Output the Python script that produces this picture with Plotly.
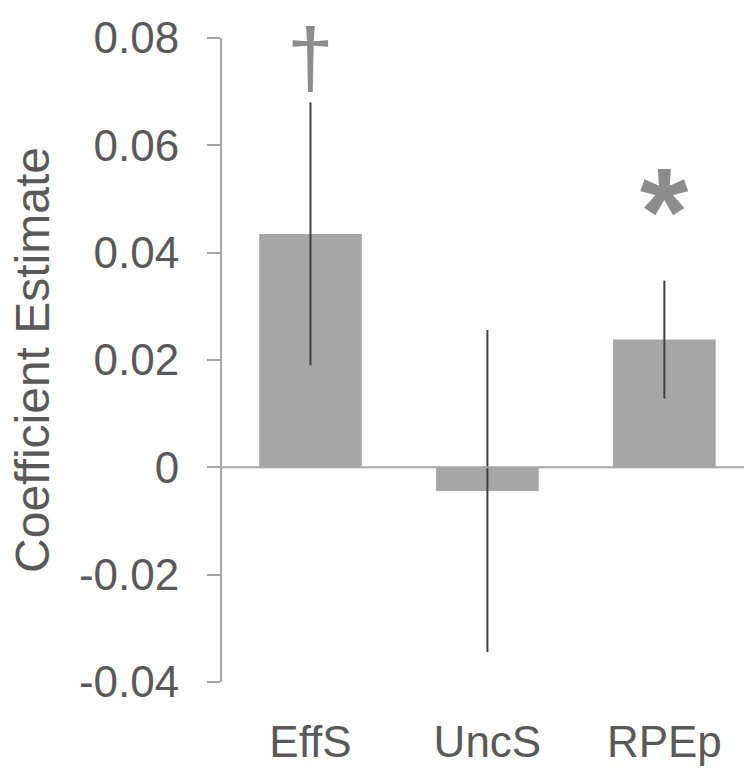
import plotly.graph_objects as go

# Regression coefficients with error bars
categories = ["EffS", "UncS", "RPEp"]
estimates = [0.0435, -0.0044, 0.0238]
errors = [0.0245, 0.0300, 0.0110]
markers = ["†", "", "*"]
marker_y = [0.0762, None, 0.0475]

tick_vals = [-0.04, -0.02, 0, 0.02, 0.04, 0.06, 0.08]
tick_text = ["-0.04", "-0.02", "0", "0.02", "0.04", "0.06", "0.08"]

TEXT = "#595959"
BAR = "#a6a6a6"
AXIS = "#a6a6a6"
FONT = "Liberation Sans, Arial, sans-serif"

fig = go.Figure()
fig.add_trace(go.Bar(
    x=categories,
    y=estimates,
    marker=dict(color=BAR, line=dict(width=0)),
    error_y=dict(type="data", array=errors, visible=True,
                 color="#404040", thickness=2, width=0),
    width=0.58,
))

# significance markers
fig.add_annotation(x=categories[0], y=marker_y[0], text=markers[0],
                   showarrow=False, font=dict(size=84, color="#8c8c8c", family=FONT),
                   yanchor="middle")
fig.add_annotation(x=categories[2], y=marker_y[2], text="<b>" + markers[2] + "</b>",
                   showarrow=False, font=dict(size=124, color="#8c8c8c", family=FONT),
                   yanchor="middle")

# zero reference line
fig.add_shape(type="line", xref="paper", yref="y", x0=0, x1=1, y0=0, y1=0,
              line=dict(color=AXIS, width=2))

fig.update_layout(
    width=744, height=774,
    margin=dict(l=222, r=0, t=38, b=92),
    plot_bgcolor="white", paper_bgcolor="white",
    showlegend=False,
    font=dict(family=FONT, color=TEXT, size=44),
    xaxis=dict(range=[-0.5, 2.45], showline=False, showgrid=False, zeroline=False,
               ticks="", tickfont=dict(size=44, color=TEXT), ticklabelstandoff=30),
    yaxis=dict(range=[-0.04, 0.08], tickvals=tick_vals, ticktext=tick_text,
               showline=True, linecolor=AXIS, linewidth=2, ticks="outside",
               ticklen=13, tickwidth=2, tickcolor=AXIS, showgrid=False, zeroline=False,
               tickfont=dict(size=44, color=TEXT), ticklabelstandoff=19,
               title=dict(text="Coefficient Estimate", font=dict(size=48, color=TEXT),
                          standoff=14)),
)

fig.write_html("out.html")
